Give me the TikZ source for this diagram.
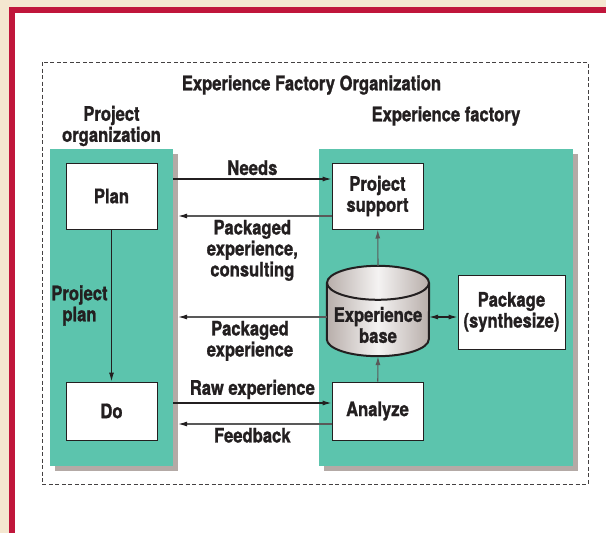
\documentclass[tikz,border=0pt]{standalone}
\usepackage{fontspec}
\setmainfont{TeX Gyre Heros}[FakeStretch=0.83, BoldFeatures={FakeBold=1.2}]
\usetikzlibrary{arrows.meta, positioning, shadows}

\definecolor{paper}{HTML}{F4E7D0}
\definecolor{frame}{HTML}{C0163B}
\definecolor{panelteal}{HTML}{5CC4AD}
\definecolor{panelshadow}{HTML}{B4AAA6}
\definecolor{basegray}{HTML}{B8AEAA}
\definecolor{ink}{HTML}{231F20}

\begin{document}
\begin{tikzpicture}[
  x=1pt, y=-1pt,
  every node/.style={font=\bfseries\fontsize{20}{21}\selectfont, text=ink, align=center},
  panel/.style={fill=panelteal, inner sep=0pt, drop shadow={shadow xshift=5pt, shadow yshift=-5pt, fill=panelshadow, opacity=1}},
  box/.style={draw=ink, fill=white, line width=1pt, minimum width=91pt, inner sep=0pt},
  flow/.style={-{Latex[length=9pt, width=5pt]}, line width=1.1pt, draw=ink},
  back/.style={-{Latex[length=9pt, width=5pt, color=ink]}, line width=1.1pt, draw=gray!70!black, shorten >=5pt}
]
  % Sfondo e cornice
  \useasboundingbox (0,0) rectangle (606,533);
  \fill[paper] (0,0) rectangle (606,533);
  \fill[frame] (9,7) rectangle (606,533);
  \fill[white] (15,13) rectangle (606,533);
  \draw[ink!85, line width=0.9pt, dash pattern=on 4pt off 2.5pt] (42,62) rectangle (588,484);

  % Pannelli
  \node[panel, minimum width=123pt, minimum height=317pt] (porg) at (111.5,307.5) {};
  \node[panel, minimum width=254pt, minimum height=317pt] (efac) at (446,307.5) {};

  \node (title) at (311.5,85) {Experience Factory Organization};
  \node (porglbl) at (111.5,126) {Project\\organization};
  \node (efaclbl) at (446,116) {Experience factory};

  % Blocchi
  \node[box, minimum height=66pt] (plan) at (111.5,196) {Plan};
  \node[box, minimum height=58pt] (do) at (111.5,411) {Do};
  \node[box, minimum height=66pt] (support) at (377.5,196) {Project\\support};
  \node[box, minimum height=58pt] (analyze) at (377.5,411) {Analyze};
  \node[box, minimum width=107pt, minimum height=74pt] (package) at (511.5,312) {Package\\(synthesize)};
  \node[minimum width=102pt, minimum height=90pt, inner sep=0pt] (base) at (378,311) {};

  % Cilindro della base
  \path[left color=basegray, right color=basegray, middle color=white!85!basegray]
    ([yshift=-17pt]base.north west) -- ([yshift=17pt]base.south west)
    arc[start angle=180, end angle=360, x radius=51pt, y radius=17pt]
    -- ([yshift=-17pt]base.north east)
    arc[start angle=0, end angle=180, x radius=51pt, y radius=17pt] -- cycle;
  \draw[ink, line width=2pt]
    ([yshift=-17pt]base.north west) -- ([yshift=17pt]base.south west)
    arc[start angle=180, end angle=360, x radius=51pt, y radius=17pt]
    -- ([yshift=-17pt]base.north east);
  \draw[ink, line width=2pt, left color=basegray, right color=basegray, middle color=white!85!basegray]
    ([yshift=-17pt]base.north) ellipse[x radius=51pt, y radius=17pt];
  \node (basetxt) at ([yshift=-14pt]base.center) {Experience\\base};

  % Frecce tra i pannelli
  \coordinate (needsR) at ([yshift=17pt]support.west);
  \coordinate (consR) at ([yshift=-20pt]support.west);
  \coordinate (pkR) at ([yshift=-6pt]base.west);
  \coordinate (rawR) at ([yshift=8pt]analyze.west);
  \coordinate (fbR) at ([yshift=-13pt]analyze.west);

  \draw[flow] (porg.east |- needsR) -- (needsR) node[midway, above] {Needs};
  \draw[back] (consR) -- (porg.east |- consR) node[midway, below] {Packaged\\experience,\\consulting};
  \draw[back] (pkR) -- (porg.east |- pkR) node[midway, below] {Packaged\\experience};
  \draw[flow] (porg.east |- rawR) -- (rawR) node[midway, above] {Raw experience};
  \draw[back] (fbR) -- (porg.east |- fbR) node[midway, below] {Feedback};

  % Frecce interne
  \draw[flow] (plan) -- (do) node[midway, left] {Project\\plan};
  \draw[flow, draw=gray!70!black] (analyze) -- (base.south);
  \draw[flow, draw=gray!70!black] (base.north) -- (support);
  \draw[flow, {Latex[length=9pt, width=5pt]}-{Latex[length=9pt, width=5pt]}] ([yshift=-6pt]base.east) -- (package.west |- pkR);
\end{tikzpicture}
\end{document}
